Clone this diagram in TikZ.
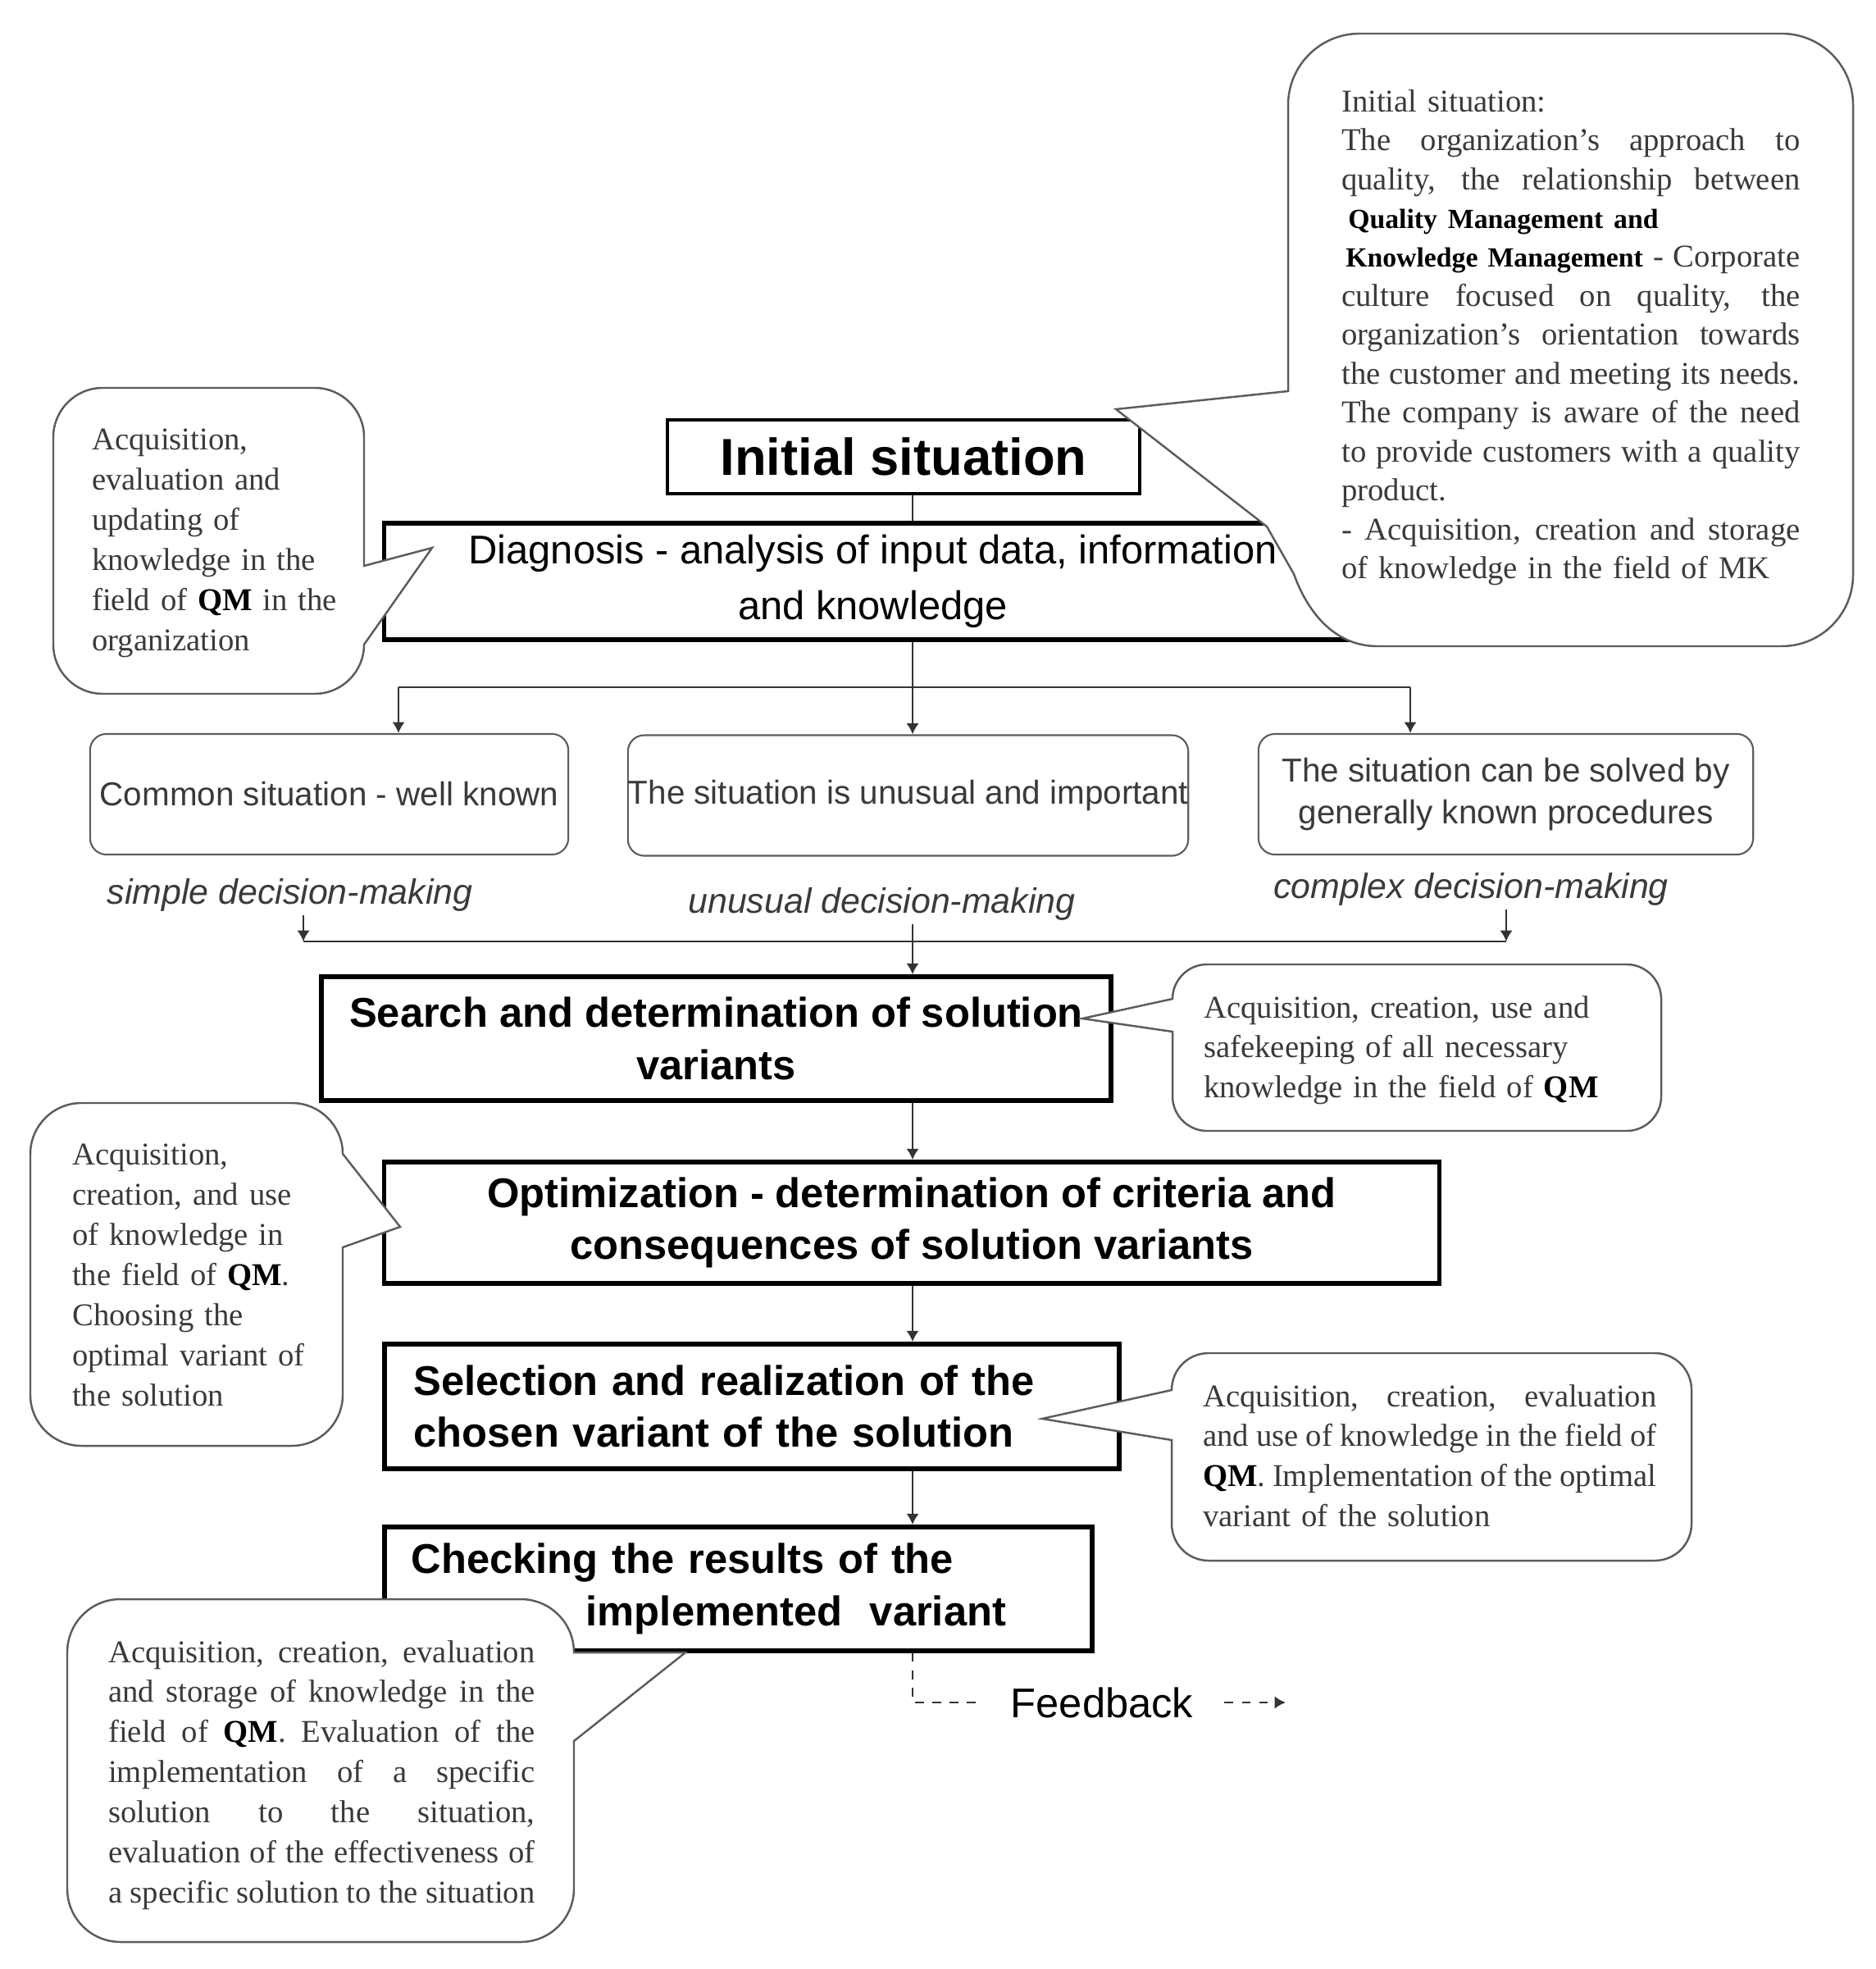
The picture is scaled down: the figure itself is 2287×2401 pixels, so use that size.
\documentclass[tikz,border=0pt]{standalone}
\usepackage{fontspec}
\setmainfont{Liberation Serif}
\setsansfont{Liberation Sans}
\usetikzlibrary{arrows.meta}
\setlength{\parindent}{0pt}
\definecolor{txtgray}{HTML}{3A3A3A}
\definecolor{linegray}{HTML}{5C5C5C}
\newlength{\notewidth}
\newcommand{\qm}{\textcolor{black}{\textbf{QM}}}
\newcommand{\km}[1]{{\color{black}\fontsize{9.6pt}{13.5pt}\selectfont\bfseries #1}}
\newcommand{\jl}[1]{\makebox[\notewidth][s]{\spaceskip=0.25em plus 1.5em minus 0.08em\relax #1}}

\begin{document}
\begin{tikzpicture}[x=0.01cm,y=-0.01cm,>={Latex[length=3.8pt,width=4.4pt]},
    line width=0.7pt,draw=black!80,
    phase/.style={draw=black,line width=1.6pt,align=center,inner sep=0pt,
      font=\fontsize{14.4pt}{18pt}\selectfont\sffamily\bfseries},
    situation/.style={draw=linegray,line width=0.6pt,rounded corners=0.2cm,
      align=center,inner sep=0pt,text=txtgray,
      font=\fontsize{11.5pt}{14.5pt}\selectfont\sffamily},
    mode/.style={inner sep=1pt,text=txtgray,
      font=\fontsize{12.2pt}{14pt}\selectfont\sffamily\itshape},
    bubble/.style={draw=linegray,fill=white,line width=0.7pt},
    note/.style={anchor=north west,inner sep=0pt,align=left,text=txtgray,
      text width=#1,execute at begin node={\setlength{\notewidth}{#1}},
      font=\fontsize{11pt}{13.9pt}\selectfont}]

  \useasboundingbox (0,0) rectangle (2287,2401);

  \node[phase,line width=1.3pt,minimum width=5.76cm,minimum height=0.9cm,
    font=\fontsize{18pt}{22pt}\selectfont\sffamily\bfseries] (init) at (1102,557) {Initial situation};
  \node[phase,minimum width=11.91cm,minimum height=1.42cm,
    font=\fontsize{13.9pt}{19.3pt}\selectfont\sffamily] (diag) at (1064.5,709)
    {Diagnosis - analysis of input data, information\\and knowledge};

  \node[situation,minimum width=5.83cm,minimum height=1.47cm] (s1) at (401.5,968.5) {Common situation - well known};
  \node[situation,minimum width=6.63cm,minimum height=1.47cm] (s2) at (1107.5,970) {The situation is unusual and important};
  \node[situation,minimum width=6.03cm,minimum height=1.47cm] (s3) at (1836.5,968.5) {The situation can be solved by\\generally known procedures};

  \node[mode] (lsimple)  at (353.5,1091) {simple decision-making};
  \node[mode] (lunusual) at (1075.5,1102) {unusual decision-making};
  \node[mode] (lcomplex) at (1794,1084) {complex decision-making};

  \node[phase,minimum width=9.63cm,minimum height=1.51cm] (search) at (873.5,1266.5)
    {Search and determination of solution\\variants};
  \node[phase,minimum width=12.86cm,minimum height=1.48cm] (opt) at (1112,1491)
    {Optimization - determination of criteria and\\consequences of solution variants};
  \node[phase,align=left,text width=8.24cm,inner xsep=0.36cm,minimum height=1.52cm] (sel) at (917,1715)
    {Selection and realization of the\\chosen variant of the solution};
  \node[phase,align=left,text width=7.97cm,inner xsep=0.33cm,minimum height=1.51cm] (check) at (900.5,1937.5)
    {Checking the results of the\\\hspace*{2.13cm}implemented\ \ variant};

  \node[inner xsep=0.37cm,inner ysep=0pt,font=\fontsize{14.4pt}{17pt}\selectfont\sffamily] (fb) at (1344,2076) {Feedback};

  \coordinate (trunk) at (1113,0);
  \coordinate (b1) at (486,838);
  \coordinate (b3) at (1720,838);
  \coordinate (m1) at (370,1148);
  \coordinate (m3) at (1837,1148);
  \coordinate (fbend) at (1568,2076);

  \draw (init.south -| trunk) -- (diag.north -| trunk);
  \draw[->] (diag.south -| trunk) -- (s2.north -| trunk);
  \draw (b1) -- (b3);
  \draw[->] (b1) -- (b1 |- s1.north);
  \draw[->] (b3) -- (b3 |- s3.north);
  \draw[->] (m1 |- lsimple.south) -- (m1);
  \draw[->] (m3 |- lcomplex.south) -- (m3);
  \draw (m1) -- (m3);
  \draw[->] (trunk |- lunusual.south) -- (search.north -| trunk);
  \draw[->] (search.south -| trunk) -- (opt.north -| trunk);
  \draw[->] (opt.south -| trunk) -- (sel.north -| trunk);
  \draw[->] (sel.south -| trunk) -- (check.north -| trunk);
  \draw[dashed] (check.south -| trunk) |- (fb.west);
  \draw[dashed,->] (fb.east) -- (fbend);

  % callouts
  \draw[bubble] (1571,300) -- (1571,128) .. controls (1571,80) and (1610,41) .. (1658,41)
    -- (2173,41) .. controls (2221,41) and (2260,80) .. (2260,128)
    -- (2260,701) .. controls (2260,749) and (2221,788) .. (2173,788)
    -- (1680,788) .. controls (1630,788) and (1596,750) .. (1578,700)
    -- (1545,642) -- (1361,499) -- (1571,477) -- cycle;
  \draw[bubble] (444,690) -- (527,668) -- (444,786) .. controls (444,819) and (417,846) .. (384,846)
    -- (125,846) .. controls (92,846) and (65,819) .. (65,786)
    -- (65,533) .. controls (65,500) and (92,473) .. (125,473)
    -- (384,473) .. controls (417,473) and (444,500) .. (444,533) -- cycle;
  \draw[bubble] (1430,1218) -- (1320,1242) -- (1430,1258)
    -- (1430,1337) .. controls (1430,1360) and (1449,1379) .. (1472,1379)
    -- (1984,1379) .. controls (2007,1379) and (2026,1360) .. (2026,1337)
    -- (2026,1218) .. controls (2026,1195) and (2007,1176) .. (1984,1176)
    -- (1472,1176) .. controls (1449,1176) and (1430,1195) .. (1430,1218) -- cycle;
  \draw[bubble] (418,1407) -- (488,1496) -- (418,1521)
    -- (418,1701) .. controls (418,1735) and (390,1763) .. (356,1763)
    -- (99,1763) .. controls (65,1763) and (37,1735) .. (37,1701)
    -- (37,1407) .. controls (37,1373) and (65,1345) .. (99,1345)
    -- (356,1345) .. controls (390,1345) and (418,1373) .. (418,1407) -- cycle;
  \draw[bubble] (1429,1695) -- (1271,1730) -- (1429,1756)
    -- (1429,1858) .. controls (1429,1883) and (1449,1903) .. (1474,1903)
    -- (2018,1903) .. controls (2043,1903) and (2063,1883) .. (2063,1858)
    -- (2063,1695) .. controls (2063,1670) and (2043,1650) .. (2018,1650)
    -- (1474,1650) .. controls (1449,1650) and (1429,1670) .. (1429,1695) -- cycle;
  \draw[bubble] (700,2015) -- (836,2015) -- (700,2123)
    -- (700,2303) .. controls (700,2339) and (671,2368) .. (635,2368)
    -- (147,2368) .. controls (111,2368) and (82,2339) .. (82,2303)
    -- (82,2015) .. controls (82,1979) and (111,1950) .. (147,1950)
    -- (635,1950) .. controls (671,1950) and (700,1979) .. (700,2015) -- cycle;

  \node[note=5.59cm,font=\fontsize{11pt}{13.5pt}\selectfont] (nInit) at (1635,108)
    {Initial situation:\\
     \jl{The organization's approach to}\\
     \jl{quality, the relationship between}\\
     \hspace*{0.08cm}\km{Quality Management and}\\
     \jl{\hspace*{0.05cm}\km{Knowledge Management} - Corporate}\\
     \jl{culture focused on quality, the}\\
     \jl{organization's orientation towards}\\
     \jl{the customer and meeting its needs.}\\
     \jl{The company is aware of the need}\\
     \jl{to provide customers with a quality}\\
     product.\\
     \jl{- Acquisition, creation and storage}\\
     of knowledge in the field of MK};
  \node[note=3.2cm] (nDiag) at (111,522)
    {Acquisition,\\evaluation and\\updating of\\knowledge in the\\field of \qm{} in the\\organization};
  \node[note=5cm] (nSearch) at (1467,1213)
    {Acquisition, creation, use and\\safekeeping of all necessary\\knowledge in the field of \qm};
  \node[note=3.2cm] (nOpt) at (87,1394)
    {Acquisition,\\creation, and use\\of knowledge in\\the field of \qm.\\Choosing the\\optimal variant of\\the solution};
  \node[note=5.53cm] (nSel) at (1466,1687)
    {\jl{Acquisition, creation, evaluation}\\
     \jl{and use of knowledge in the field of}\\
     \jl{\qm. Implementation of the optimal}\\
     variant of the solution};
  \node[note=5.2cm] (nCheck) at (131,1999)
    {\jl{Acquisition, creation, evaluation}\\
     \jl{and storage of knowledge in the}\\
     \jl{field of \qm. Evaluation of the}\\
     \jl{implementation of a specific}\\
     \jl{solution to the situation,}\\
     \jl{evaluation of the effectiveness of}\\
     \jl{a specific solution to the situation}};
\end{tikzpicture}
\end{document}
